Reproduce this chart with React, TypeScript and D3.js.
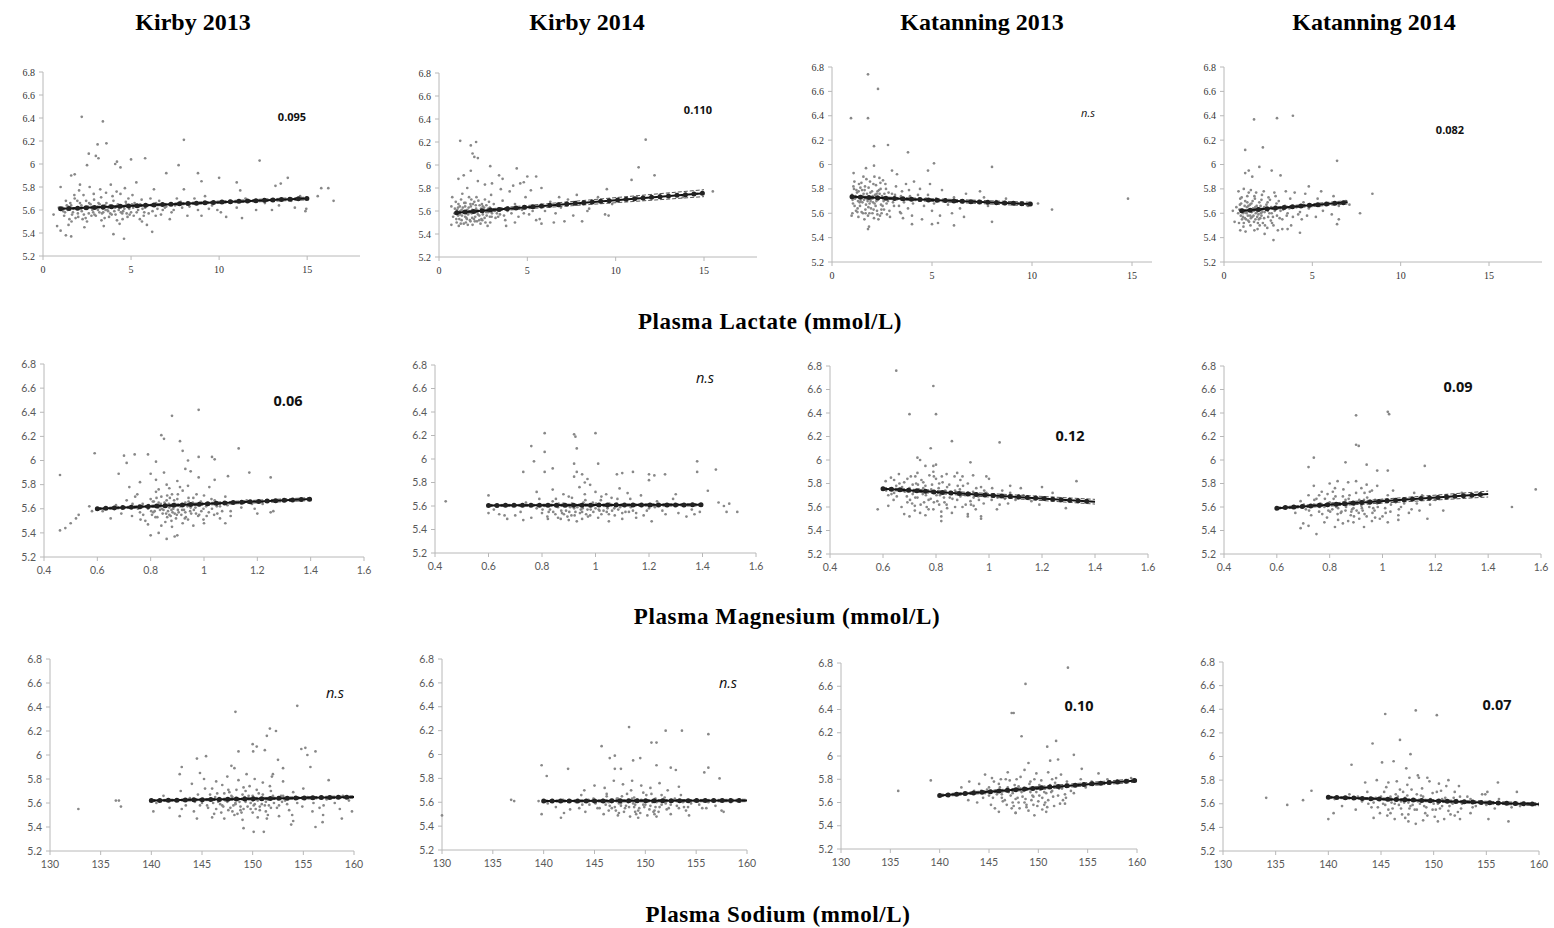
import React from 'react';
import * as d3 from 'd3';

const columnTitles = ['Kirby 2013', 'Kirby 2014', 'Katanning 2013', 'Katanning 2014'];
const rowTitles = ['Plasma Lactate (mmol/L)', 'Plasma Magnesium (mmol/L)', 'Plasma Sodium (mmol/L)'];
const yTicks = [5.2, 5.4, 5.6, 5.8, 6, 6.2, 6.4, 6.6, 6.8];
const lactateTicks = [0, 5, 10, 15];
const magnesiumTicks = [0.4, 0.6, 0.8, 1, 1.2, 1.4, 1.6];
const sodiumTicks = [130, 135, 140, 145, 150, 155, 160];
const annotations = ['0.095', '0.110', 'n.s', '0.082', '0.06', 'n.s', '0.12', '0.09', 'n.s', 'n.s', '0.10', '0.07'];
// regression fits: [xStart, yStart, xEnd, yEnd, ciStart, ciEnd]
const fits = [
  [1, 5.61, 15, 5.70, 0.006, 0.012],
  [1, 5.585, 15, 5.755, 0.008, 0.03],
  [1, 5.735, 10, 5.675, 0.008, 0.015],
  [1, 5.62, 7, 5.69, 0.006, 0.014],
  [0.6, 5.60, 1.4, 5.68, 0.008, 0.012],
  [0.6, 5.605, 1.4, 5.61, 0.008, 0.01],
  [0.6, 5.755, 1.4, 5.645, 0.01, 0.02],
  [0.6, 5.59, 1.4, 5.71, 0.008, 0.025],
  [140, 5.62, 160, 5.65, 0.008, 0.01],
  [140, 5.61, 160, 5.615, 0.008, 0.01],
  [140, 5.66, 160, 5.79, 0.01, 0.015],
  [140, 5.655, 160, 5.595, 0.008, 0.012],
];

const kirby13Lactate = [
  [1.1,5.62],[1.2,5.55],[1.3,5.68],[1.4,5.60],[1.5,5.52],[1.6,5.64],[1.7,5.58],[1.8,5.70],[1.9,5.61],[2.0,5.54],[2.1,5.66],[2.2,5.59],[2.3,5.73],[2.4,5.62],[2.5,5.50],[2.6,5.57],[2.7,5.65],[2.8,5.60],[2.9,5.69],[3.0,5.55],[3.1,5.63],[3.2,5.58],[3.3,5.71],[3.4,5.61],[3.5,5.53],[3.6,5.66],[3.7,5.59],[3.8,5.64],[3.9,5.56],[4.0,5.68],[4.1,5.62],[4.2,5.51],[4.3,5.60],[4.4,5.74],[4.5,5.57],[4.6,5.63],[4.7,5.67],[4.8,5.54],[4.9,5.61],[5.0,5.58],[5.2,5.66],[5.4,5.60],[5.5,5.52],[5.6,5.69],[5.8,5.62],[6.0,5.57],[6.2,5.64],[6.4,5.55],[6.6,5.68],[6.8,5.60],[7.0,5.63],[7.3,5.58],[7.6,5.70],[7.9,5.62],[8.2,5.55],[8.5,5.66],[8.8,5.60],[9.2,5.72],[9.6,5.64],[10.1,5.58],[10.6,5.68],[11.0,5.62],[11.5,5.70],[12.1,5.60],[12.6,5.66],[13.4,5.64],[14.1,5.68],[14.6,5.72],
  [1.25,5.58],[1.55,5.66],[1.85,5.53],[2.15,5.61],[2.45,5.68],[2.75,5.55],[3.05,5.62],[3.35,5.57],[3.65,5.60],[3.95,5.72],[4.25,5.65],[4.55,5.59],[4.85,5.70],[5.15,5.55],[5.45,5.63],[5.75,5.58],[6.1,5.70],[6.5,5.61],[2.05,5.77],[2.65,5.80],[3.25,5.78],[3.85,5.82],[4.65,5.79],[5.3,5.84],[6.3,5.78],[1.45,5.47],[2.35,5.45],[3.45,5.46],[4.35,5.48],[5.9,5.47],[7.2,5.52],[8.0,5.78],[9.0,5.55],
  [1.35,5.64],[1.65,5.56],[1.95,5.68],[2.25,5.52],[2.55,5.63],[2.85,5.58],[3.15,5.66],[3.55,5.60],[3.75,5.54],[4.05,5.59],[4.45,5.64],[4.75,5.57],[5.05,5.65],[5.65,5.61],[6.7,5.56],[7.5,5.64],[8.6,5.70],[9.9,5.60],
  [2.2,6.41],[3.4,6.37],[3.1,6.17],[3.6,6.18],[8.0,6.21],[2.6,6.09],[3.0,6.07],[3.15,6.05],[2.5,5.99],[4.2,6.02],[4.1,6.0],[5.0,6.04],[5.8,6.05],[4.4,5.97],[7.7,5.99],[12.3,6.03],[13.9,5.88],[15.8,5.79],[16.2,5.79],[16.5,5.68],[15.6,5.72],[0.6,5.56],[0.8,5.46],[1.0,5.42],[1.3,5.38],[1.6,5.37],[4.6,5.35],[4.0,5.39],[6.2,5.41],[10.4,5.54],[11.3,5.53],[14.9,5.59],[14.95,5.61],[13.0,5.6],[14.3,5.62],[9.0,5.85],[11.0,5.84],[11.2,5.77],[10.0,5.88],[8.8,5.92],[7.0,5.92],[13.2,5.81],[13.5,5.83],[1.0,5.8],[1.6,5.9],[1.8,5.91],[2.1,5.82],[0.9,5.62],
];
const kirby13LactateCore = [
  [1.15,5.59],[1.42,5.63],[1.72,5.61],[1.98,5.57],[2.18,5.64],[2.32,5.56],[2.52,5.61],[2.62,5.66],[2.82,5.63],[2.92,5.56],[3.12,5.60],[3.22,5.65],[3.42,5.58],[3.52,5.64],[3.72,5.62],[3.82,5.57],[4.02,5.63],[4.12,5.56],[4.32,5.62],[4.42,5.58],[4.62,5.61],[4.72,5.65],[4.92,5.56],[5.12,5.62],[5.32,5.58],[5.52,5.65],[5.72,5.55],[5.92,5.64],[6.22,5.59],[6.42,5.66],[6.92,5.62],[7.42,5.60],[7.82,5.67],[8.32,5.63],[9.42,5.61],[1.62,5.50],[2.42,5.53],[3.32,5.51],[4.52,5.52],[5.62,5.50],[1.78,5.73],[2.88,5.74],[3.58,5.75],[4.18,5.76],[5.08,5.73],
];

const kirby14Lactate = [
  [0.8,5.55],[0.9,5.62],[1.0,5.50],[1.05,5.58],[1.1,5.66],[1.15,5.53],[1.2,5.60],[1.25,5.70],[1.3,5.56],[1.35,5.63],[1.4,5.49],[1.45,5.59],[1.5,5.67],[1.55,5.54],[1.6,5.61],[1.65,5.57],[1.7,5.72],[1.75,5.52],[1.8,5.64],[1.85,5.58],[1.9,5.48],[1.95,5.60],[2.0,5.68],[2.05,5.55],[2.1,5.62],[2.15,5.51],[2.2,5.57],[2.3,5.65],[2.4,5.53],[2.5,5.60],[2.6,5.70],[2.7,5.56],[2.8,5.62],[2.9,5.50],[3.0,5.58],[3.1,5.66],[3.2,5.54],[3.3,5.61],[3.45,5.57],[3.6,5.69],[3.75,5.52],[3.9,5.63],[4.1,5.58],[4.3,5.66],[4.5,5.55],[4.7,5.61],[4.9,5.72],[5.1,5.57],[5.4,5.64],[5.7,5.53],[6.0,5.60],[6.3,5.68],[6.6,5.58],[6.9,5.63],[7.3,5.70],[7.6,5.56],[8.0,5.66],[8.5,5.62],[9.0,5.72],[9.8,5.66],[10.5,5.70],[11.2,5.72],[12.5,5.74],[13.8,5.72],[14.6,5.75],
  [0.95,5.68],[1.12,5.47],[1.32,5.75],[1.52,5.50],[1.72,5.59],[1.92,5.66],[2.12,5.72],[2.35,5.49],[2.55,5.63],[2.75,5.47],[2.95,5.74],[3.15,5.60],[3.5,5.79],[2.6,5.83],[1.6,5.80],[2.2,5.86],[3.0,5.84],[4.0,5.77],[4.6,5.84],[5.2,5.78],[5.8,5.80],[6.8,5.72],[7.8,5.74],[0.7,5.64],[0.75,5.72],[3.8,5.47],[4.3,5.50],[5.5,5.52],
  [1.08,5.56],[1.28,5.61],[1.48,5.55],[1.68,5.63],[1.88,5.54],[2.08,5.59],[2.28,5.56],[2.48,5.64],[2.68,5.59],[2.88,5.55],[1.18,5.64],[1.58,5.58],[1.78,5.51],[2.45,5.52],[3.35,5.55],
  [1.2,6.21],[2.1,6.2],[1.8,6.17],[1.9,6.1],[2.0,6.07],[2.2,6.06],[1.8,5.95],[2.9,5.99],[4.4,5.97],[11.7,6.22],[11.3,5.98],[12.2,5.91],[10.9,5.87],[15.5,5.77],[1.1,5.88],[1.4,5.91],[3.4,5.91],[3.6,5.88],[5.0,5.9],[5.5,5.9],[4.8,5.85],[4.2,5.82],[9.5,5.79],[9.4,5.57],[9.6,5.56],[8.1,5.51],[7.1,5.51],[8.4,5.6],[6.5,5.5],[5.8,5.49],[0.7,5.48],
];
const kirby14LactateCore = [
  [0.88,5.58],[0.98,5.53],[1.08,5.63],[1.18,5.57],[1.28,5.52],[1.38,5.60],[1.48,5.64],[1.58,5.53],[1.68,5.60],[1.78,5.66],[1.88,5.61],[1.98,5.53],[2.08,5.65],[2.18,5.60],[2.28,5.52],[2.38,5.62],[2.48,5.57],[2.58,5.54],[2.68,5.65],[2.78,5.59],[2.88,5.63],[2.98,5.55],[3.08,5.61],[3.28,5.58],[3.48,5.62],[3.68,5.56],[3.88,5.60],[4.2,5.62],[4.8,5.58],[5.3,5.60],[1.03,5.61],[1.23,5.49],[1.43,5.67],[1.63,5.48],[1.83,5.70],[2.03,5.51],[2.23,5.69],[2.43,5.66],[2.63,5.50],[2.83,5.68],
];

const katanning13Lactate = [
  [1.0,5.75],[1.05,5.68],[1.1,5.80],[1.15,5.72],[1.2,5.62],[1.25,5.77],[1.3,5.70],[1.35,5.84],[1.4,5.66],[1.45,5.74],[1.5,5.79],[1.55,5.60],[1.6,5.71],[1.65,5.82],[1.7,5.67],[1.75,5.76],[1.8,5.58],[1.85,5.73],[1.9,5.86],[1.95,5.64],[2.0,5.78],[2.05,5.69],[2.1,5.56],[2.15,5.75],[2.2,5.83],[2.25,5.62],[2.3,5.71],[2.35,5.79],[2.4,5.58],[2.45,5.67],[2.5,5.74],[2.55,5.87],[2.6,5.63],[2.7,5.80],[2.8,5.70],[2.9,5.57],[3.0,5.76],[3.1,5.66],[3.2,5.82],[3.3,5.72],[3.4,5.61],[3.5,5.78],[3.6,5.69],[3.7,5.84],[3.8,5.64],[3.9,5.74],[4.0,5.58],[4.2,5.71],[4.4,5.80],[4.6,5.66],[4.8,5.75],[5.0,5.62],[5.2,5.72],[5.5,5.79],[5.8,5.67],[6.1,5.73],[6.4,5.64],[6.7,5.76],[7.1,5.70],[7.4,5.78],[7.8,5.66],[8.2,5.70],[8.7,5.72],[9.3,5.68],[9.8,5.66],
  [1.02,5.60],[1.12,5.86],[1.22,5.79],[1.32,5.57],[1.42,5.81],[1.52,5.69],[1.62,5.55],[1.72,5.88],[1.82,5.65],[1.92,5.77],[2.02,5.60],[2.12,5.90],[2.22,5.70],[2.32,5.55],[2.42,5.85],[2.62,5.76],[2.75,5.59],[3.25,5.92],[3.55,5.56],[4.1,5.86],[4.5,5.55],[4.9,5.84],[5.4,5.58],[6.0,5.60],[6.6,5.57],[7.6,5.73],[1.08,5.93],[0.98,5.58],
  [1.18,5.74],[1.38,5.69],[1.58,5.76],[1.78,5.70],[1.98,5.72],[2.18,5.66],[2.38,5.76],[2.58,5.70],[1.28,5.64],[1.48,5.61],[1.68,5.60],[1.88,5.68],[2.08,5.63],[2.28,5.78],[2.48,5.60],
  [1.8,6.74],[2.3,6.62],[0.95,6.38],[1.8,6.38],[2.1,6.15],[2.8,6.16],[3.8,6.1],[5.1,6.01],[8.0,5.98],[4.8,5.95],[1.7,5.97],[2.1,5.99],[3.0,5.95],[14.8,5.72],[11.0,5.63],[10.3,5.68],[8.0,5.53],[6.1,5.5],[5.3,5.52],[5.0,5.51],[1.8,5.47],[1.85,5.49],[4.0,5.51],
];
const katanning13LactateCore = [
  [1.03,5.71],[1.13,5.66],[1.23,5.73],[1.33,5.78],[1.43,5.70],[1.53,5.74],[1.63,5.79],[1.73,5.72],[1.83,5.81],[1.93,5.70],[2.03,5.74],[2.13,5.68],[2.23,5.76],[2.33,5.72],[2.43,5.80],[2.53,5.66],[2.63,5.73],[2.73,5.68],[2.83,5.77],[2.93,5.72],[3.05,5.69],[3.15,5.75],[3.35,5.66],[3.45,5.74],[3.65,5.71],[3.85,5.79],[4.05,5.68],[4.3,5.75],[4.7,5.72],[5.1,5.68],[1.07,5.82],[1.27,5.61],[1.47,5.85],[1.67,5.63],[1.87,5.60],[2.07,5.84],[2.27,5.59],[2.47,5.63],[2.67,5.84],[2.87,5.62],[3.45,5.60],[1.57,5.90],[2.37,5.89],
];

const katanning14Lactate = [
  [0.8,5.60],[0.85,5.52],[0.9,5.67],[0.95,5.58],[1.0,5.73],[1.05,5.63],[1.1,5.49],[1.15,5.61],[1.2,5.70],[1.25,5.55],[1.3,5.65],[1.35,5.58],[1.4,5.77],[1.45,5.62],[1.5,5.50],[1.55,5.68],[1.6,5.57],[1.65,5.64],[1.7,5.53],[1.75,5.72],[1.8,5.60],[1.85,5.66],[1.9,5.47],[1.95,5.59],[2.0,5.69],[2.05,5.56],[2.1,5.63],[2.15,5.75],[2.2,5.52],[2.3,5.61],[2.4,5.67],[2.5,5.57],[2.6,5.71],[2.7,5.60],[2.8,5.50],[2.9,5.65],[3.0,5.58],[3.1,5.70],[3.2,5.62],[3.3,5.55],[3.45,5.66],[3.6,5.60],[3.75,5.72],[3.9,5.57],[4.1,5.65],[4.3,5.61],[4.5,5.69],[4.7,5.58],[5.0,5.66],[5.3,5.72],[5.6,5.62],[5.9,5.68],[6.2,5.74],[6.5,5.66],[6.9,5.70],[7.1,5.67],
  [0.82,5.78],[0.92,5.46],[1.02,5.55],[1.12,5.80],[1.22,5.45],[1.32,5.74],[1.42,5.53],[1.52,5.79],[1.62,5.70],[1.72,5.46],[1.82,5.77],[1.92,5.64],[2.02,5.50],[2.12,5.58],[2.25,5.78],[2.45,5.48],[2.65,5.54],[2.85,5.77],[3.05,5.46],[3.5,5.78],[3.8,5.50],[4.0,5.77],[4.4,5.55],[4.6,5.76],[5.2,5.57],[5.5,5.78],[6.1,5.59],[0.6,5.53],[0.7,5.65],
  [1.08,5.60],[1.28,5.61],[1.48,5.58],[1.68,5.62],[1.88,5.57],[2.08,5.60],[2.28,5.65],[2.48,5.62],[1.18,5.56],[1.38,5.66],[1.58,5.63],[1.78,5.55],[1.98,5.63],
  [1.7,6.37],[3.0,6.38],[3.9,6.4],[2.2,6.14],[1.2,6.12],[6.4,6.03],[2.0,5.98],[2.7,5.95],[1.4,5.95],[1.2,5.93],[3.2,5.91],[1.6,5.9],[4.8,5.82],[8.4,5.76],[7.7,5.6],[2.8,5.38],[2.3,5.43],[4.3,5.44],[6.4,5.51],[6.5,5.55],[0.5,5.62],[3.3,5.47],[3.6,5.47],
];
const katanning14LactateCore = [
  [0.87,5.63],[0.97,5.68],[1.07,5.57],[1.17,5.66],[1.27,5.60],[1.37,5.54],[1.47,5.67],[1.57,5.61],[1.67,5.58],[1.77,5.65],[1.87,5.61],[1.97,5.55],[2.07,5.66],[2.17,5.61],[2.27,5.56],[2.37,5.63],[2.47,5.69],[2.57,5.60],[2.67,5.65],[2.77,5.57],[2.87,5.62],[2.97,5.68],[3.15,5.56],[3.35,5.63],[3.55,5.58],[3.7,5.64],[4.2,5.59],[4.8,5.64],[5.4,5.66],[0.92,5.72],[1.12,5.52],[1.32,5.69],[1.52,5.56],[1.72,5.74],[1.92,5.52],[2.12,5.71],[2.32,5.50],[2.52,5.73],[2.72,5.52],[2.92,5.74],
];

const kirby13Magnesium = [
  [0.62,5.58],[0.65,5.52],[0.67,5.63],[0.69,5.56],[0.71,5.67],[0.73,5.54],[0.74,5.61],[0.75,5.72],[0.76,5.57],[0.77,5.64],[0.78,5.50],[0.79,5.60],[0.80,5.68],[0.805,5.55],[0.81,5.62],[0.815,5.58],[0.82,5.74],[0.825,5.53],[0.83,5.65],[0.835,5.59],[0.84,5.70],[0.845,5.56],[0.85,5.62],[0.855,5.49],[0.86,5.67],[0.865,5.58],[0.87,5.61],[0.875,5.54],[0.88,5.72],[0.885,5.60],[0.89,5.64],[0.895,5.52],[0.90,5.68],[0.905,5.57],[0.91,5.62],[0.915,5.55],[0.92,5.75],[0.925,5.59],[0.93,5.65],[0.94,5.51],[0.95,5.61],[0.96,5.69],[0.97,5.56],[0.98,5.63],[0.99,5.58],[1.00,5.71],[1.01,5.54],[1.02,5.64],[1.03,5.60],[1.04,5.67],[1.05,5.56],[1.06,5.62],[1.08,5.70],[1.10,5.58],[1.12,5.65],[1.14,5.61],[1.16,5.67],[1.19,5.60],[1.22,5.64],
  [0.72,5.78],[0.76,5.82],[0.79,5.47],[0.82,5.84],[0.84,5.46],[0.86,5.80],[0.88,5.45],[0.9,5.83],[0.92,5.48],[0.94,5.79],[0.96,5.46],[0.98,5.86],[1.0,5.48],[1.02,5.78],[1.04,5.84],[1.06,5.52],[1.08,5.48],[0.8,5.89],[0.85,5.9],[0.93,5.93],[0.95,5.91],[0.87,5.77],[0.83,5.76],[0.91,5.78],[0.89,5.56],[0.81,5.57],[0.87,5.55],[0.93,5.57],
  [0.782,5.62],[0.812,5.66],[0.842,5.60],[0.862,5.53],[0.882,5.57],[0.902,5.59],[0.922,5.63],[0.942,5.66],[0.962,5.59],[0.982,5.55],[0.802,5.58],[0.852,5.65],[0.872,5.69],[0.932,5.53],[0.952,5.56],
  [0.98,6.42],[0.88,6.37],[0.84,6.21],[0.85,6.18],[0.91,6.16],[0.92,6.08],[1.13,6.1],[0.59,6.06],[0.7,6.04],[0.74,6.05],[0.79,6.05],[0.71,5.98],[0.82,5.99],[0.98,6.03],[1.03,6.03],[1.04,6.01],[0.94,6.0],[0.46,5.88],[0.68,5.89],[1.17,5.9],[1.25,5.86],[1.09,5.87],[0.46,5.42],[0.48,5.44],[0.5,5.48],[0.52,5.52],[0.53,5.55],[0.8,5.38],[0.83,5.4],[0.86,5.35],[0.89,5.37],[0.9,5.38],[0.57,5.62],[0.58,5.58],[1.26,5.58],[1.25,5.57],[1.2,5.56],[1.18,5.64],[1.1,5.54],
];
const kirby13MagnesiumCore = [
  [0.752,5.60],[0.772,5.55],[0.792,5.63],[0.808,5.66],[0.818,5.53],[0.828,5.61],[0.838,5.64],[0.848,5.59],[0.858,5.56],[0.868,5.64],[0.878,5.59],[0.888,5.67],[0.898,5.55],[0.908,5.63],[0.918,5.59],[0.928,5.52],[0.938,5.62],[0.948,5.58],[0.958,5.65],[0.968,5.61],[0.978,5.54],[0.988,5.66],[0.998,5.60],[1.008,5.62],[1.018,5.57],[1.028,5.68],[1.038,5.55],[1.048,5.62],[1.068,5.58],[1.088,5.63],[0.732,5.64],[0.742,5.70],[0.762,5.51],[0.822,5.69],[0.862,5.71],[0.902,5.72],[0.942,5.69],[0.972,5.72],[0.998,5.51],[0.878,5.50],
];

const kirby14Magnesium = [
  [0.62,5.57],[0.66,5.52],[0.69,5.60],[0.72,5.55],[0.74,5.63],[0.76,5.50],[0.78,5.58],[0.79,5.66],[0.80,5.54],[0.81,5.60],[0.82,5.51],[0.83,5.57],[0.84,5.64],[0.85,5.53],[0.86,5.59],[0.87,5.49],[0.88,5.62],[0.89,5.56],[0.90,5.68],[0.91,5.52],[0.92,5.58],[0.93,5.47],[0.94,5.61],[0.95,5.55],[0.96,5.70],[0.97,5.57],[0.98,5.52],[0.99,5.63],[1.00,5.58],[1.01,5.50],[1.02,5.65],[1.03,5.56],[1.04,5.60],[1.05,5.53],[1.06,5.67],[1.07,5.58],[1.08,5.62],[1.10,5.54],[1.11,5.60],[1.13,5.66],[1.14,5.56],[1.16,5.61],[1.18,5.52],[1.20,5.58],[1.21,5.47],[1.23,5.64],[1.25,5.56],[1.27,5.60],[1.29,5.66],[1.31,5.54],[1.33,5.60],[1.36,5.57],[1.39,5.55],
  [0.78,5.72],[0.84,5.74],[0.88,5.70],[0.94,5.76],[0.96,5.80],[0.98,5.78],[1.0,5.72],[1.04,5.70],[1.09,5.75],[1.12,5.71],[1.17,5.69],[1.2,5.82],[1.22,5.86],[0.92,5.85],[0.97,5.83],[0.86,5.50],[0.9,5.48],[0.95,5.49],[1.05,5.47],[1.1,5.49],[0.73,5.48],[0.7,5.52],[0.64,5.53],[1.3,5.70],[1.34,5.51],[1.37,5.53],
  [0.825,5.55],[0.855,5.61],[0.875,5.54],[0.905,5.59],[0.925,5.55],[0.945,5.57],[0.965,5.53],[0.985,5.60],[1.015,5.56],[1.045,5.58],[1.085,5.57],[1.125,5.55],[0.895,5.51],[0.955,5.63],
  [0.81,6.22],[0.92,6.21],[0.925,6.19],[1.0,6.22],[0.76,6.11],[0.93,6.09],[0.81,6.06],[0.77,5.98],[0.92,5.96],[1.01,5.96],[1.38,5.98],[0.73,5.89],[0.81,5.89],[0.84,5.92],[0.93,5.89],[0.95,5.87],[1.08,5.87],[1.1,5.88],[1.14,5.89],[1.2,5.87],[1.26,5.87],[1.38,5.89],[1.45,5.91],[1.42,5.73],[0.44,5.64],[1.46,5.63],[1.48,5.6],[1.49,5.55],[1.5,5.62],[1.53,5.55],[0.6,5.69],[0.67,5.49],[0.6,5.54],
];
const kirby14MagnesiumCore = [
  [0.802,5.57],[0.822,5.61],[0.842,5.55],[0.862,5.62],[0.872,5.56],[0.882,5.53],[0.892,5.60],[0.902,5.55],[0.912,5.62],[0.922,5.52],[0.932,5.59],[0.942,5.54],[0.952,5.58],[0.962,5.61],[0.972,5.51],[0.982,5.57],[0.992,5.55],[1.002,5.62],[1.012,5.57],[1.022,5.53],[1.032,5.60],[1.042,5.55],[1.052,5.62],[1.062,5.56],[1.072,5.52],[1.092,5.59],[1.112,5.55],[1.132,5.59],[1.152,5.54],[1.172,5.60],[1.192,5.56],[1.222,5.59],[1.262,5.53],[0.852,5.66],[0.912,5.67],[0.962,5.65],[1.022,5.68],[1.082,5.66],[0.822,5.49],[1.152,5.50],
];

const katanning13Magnesium = [
  [0.60,5.76],[0.61,5.82],[0.62,5.70],[0.63,5.85],[0.64,5.66],[0.65,5.78],[0.66,5.74],[0.67,5.60],[0.68,5.81],[0.69,5.69],[0.70,5.76],[0.705,5.86],[0.71,5.63],[0.715,5.73],[0.72,5.57],[0.725,5.80],[0.73,5.68],[0.735,5.75],[0.74,5.55],[0.745,5.83],[0.75,5.71],[0.755,5.64],[0.76,5.78],[0.765,5.60],[0.77,5.74],[0.775,5.87],[0.78,5.67],[0.785,5.79],[0.79,5.58],[0.795,5.72],[0.80,5.84],[0.805,5.65],[0.81,5.76],[0.815,5.70],[0.82,5.56],[0.825,5.81],[0.83,5.68],[0.835,5.74],[0.84,5.62],[0.85,5.79],[0.86,5.71],[0.87,5.86],[0.88,5.66],[0.89,5.75],[0.90,5.60],[0.91,5.70],[0.92,5.80],[0.93,5.65],[0.94,5.73],[0.95,5.58],[0.96,5.69],[0.97,5.77],[0.98,5.63],[0.99,5.72],[1.00,5.84],[1.01,5.66],[1.02,5.70],[1.04,5.62],[1.06,5.67],[1.08,5.72],[1.1,5.66],[1.13,5.70],[1.16,5.65],[1.2,5.68],[1.24,5.72],[1.27,5.65],
  [0.62,5.61],[0.66,5.88],[0.7,5.52],[0.73,5.89],[0.76,5.53],[0.79,5.90],[0.82,5.52],[0.84,5.88],[0.86,5.55],[0.88,5.89],[0.9,5.86],[0.92,5.54],[0.94,5.87],[0.97,5.52],[0.99,5.86],[1.03,5.58],[1.05,5.74],[0.68,5.54],[0.72,5.61],
  [0.642,5.72],[0.672,5.77],[0.702,5.66],[0.732,5.79],[0.762,5.70],[0.792,5.64],[0.822,5.73],[0.852,5.68],[0.882,5.78],[0.912,5.62],[0.942,5.68],[0.712,5.71],[0.752,5.76],[0.812,5.62],
  [0.65,6.76],[0.79,6.63],[0.7,6.39],[0.8,6.39],[0.86,6.16],[1.04,6.15],[0.78,6.1],[0.73,6.02],[0.74,6.0],[0.93,5.98],[0.8,5.96],[0.79,5.95],[0.76,5.95],[1.33,5.82],[1.2,5.77],[1.12,5.76],[1.08,5.78],[0.58,5.58],[0.82,5.48],[0.97,5.5],[0.92,5.52],[1.29,5.59],[1.19,5.62],
];
const katanning13MagnesiumCore = [
  [0.612,5.74],[0.632,5.71],[0.652,5.69],[0.662,5.80],[0.682,5.73],[0.692,5.64],[0.712,5.79],[0.722,5.68],[0.742,5.74],[0.752,5.81],[0.772,5.66],[0.782,5.75],[0.802,5.70],[0.812,5.80],[0.832,5.64],[0.842,5.77],[0.862,5.67],[0.872,5.74],[0.892,5.69],[0.902,5.78],[0.922,5.72],[0.932,5.62],[0.952,5.76],[0.962,5.66],[0.982,5.74],[1.012,5.76],[1.032,5.68],[1.072,5.63],[1.112,5.70],[0.642,5.83],[0.692,5.84],[0.742,5.62],[0.792,5.86],[0.842,5.59],[0.892,5.83],[0.942,5.61],[0.722,5.86],[0.772,5.58],[0.822,5.86],[0.872,5.60],
];

const katanning14Magnesium = [
  [0.64,5.60],[0.67,5.55],[0.69,5.65],[0.71,5.58],[0.72,5.70],[0.73,5.53],[0.74,5.62],[0.75,5.67],[0.76,5.56],[0.77,5.73],[0.78,5.60],[0.79,5.51],[0.80,5.64],[0.81,5.58],[0.82,5.76],[0.83,5.54],[0.84,5.62],[0.85,5.69],[0.86,5.57],[0.87,5.48],[0.88,5.63],[0.89,5.59],[0.90,5.72],[0.91,5.55],[0.92,5.61],[0.93,5.66],[0.94,5.52],[0.95,5.60],[0.96,5.74],[0.97,5.57],[0.98,5.63],[0.99,5.50],[1.00,5.66],[1.01,5.59],[1.02,5.70],[1.03,5.56],[1.05,5.64],[1.07,5.60],[1.09,5.67],[1.11,5.58],[1.13,5.63],[1.15,5.70],[1.18,5.62],[1.2,5.66],[1.25,5.68],[1.3,5.72],[1.35,5.70],
  [0.7,5.46],[0.74,5.78],[0.78,5.47],[0.8,5.80],[0.83,5.82],[0.85,5.46],[0.87,5.81],[0.89,5.47],[0.9,5.82],[0.92,5.76],[0.94,5.79],[0.96,5.48],[0.98,5.78],[1.0,5.52],[1.04,5.74],[1.06,5.53],[1.1,5.55],[1.12,5.72],[1.14,5.57],[0.76,5.70],[0.86,5.66],[0.88,5.53],
  [0.765,5.63],[0.795,5.57],[0.825,5.60],[0.845,5.56],[0.865,5.62],[0.885,5.58],[0.905,5.64],[0.925,5.57],[0.945,5.63],[0.965,5.59],[0.815,5.67],[0.875,5.70],
  [1.02,6.41],[1.025,6.39],[0.9,6.38],[0.9,6.13],[0.91,6.12],[0.74,6.02],[0.86,5.98],[0.72,5.94],[0.94,5.96],[0.98,5.91],[1.02,5.91],[1.16,5.95],[1.58,5.75],[1.49,5.6],[1.17,5.5],[1.23,5.57],[0.75,5.37],[0.69,5.42],[0.72,5.44],[0.82,5.43],[0.93,5.43],[1.02,5.47],[1.06,5.49],
];
const katanning14MagnesiumCore = [
  [0.702,5.62],[0.722,5.57],[0.742,5.66],[0.762,5.60],[0.772,5.54],[0.782,5.67],[0.792,5.61],[0.802,5.56],[0.812,5.63],[0.822,5.69],[0.832,5.59],[0.842,5.55],[0.852,5.64],[0.862,5.60],[0.872,5.67],[0.882,5.56],[0.892,5.62],[0.902,5.57],[0.912,5.66],[0.922,5.59],[0.932,5.54],[0.942,5.68],[0.952,5.63],[0.962,5.55],[0.972,5.66],[0.982,5.60],[0.992,5.64],[1.012,5.55],[1.032,5.62],[1.062,5.58],[1.082,5.63],[0.812,5.73],[0.852,5.75],[0.892,5.52],[0.932,5.72],[0.972,5.51],[0.792,5.71],[0.912,5.50],[0.832,5.49],[0.952,5.73],
];

const kirby13Sodium = [
  [140.5,5.60],[141.2,5.66],[141.8,5.56],[142.3,5.62],[142.9,5.70],[143.4,5.58],[143.8,5.64],[144.2,5.53],[144.6,5.67],[145.0,5.60],[145.3,5.72],[145.6,5.56],[145.9,5.63],[146.2,5.51],[146.5,5.68],[146.8,5.59],[147.0,5.75],[147.3,5.62],[147.6,5.54],[147.9,5.66],[148.1,5.58],[148.4,5.71],[148.7,5.61],[148.9,5.52],[149.2,5.65],[149.5,5.57],[149.7,5.74],[150.0,5.62],[150.3,5.55],[150.6,5.68],[150.9,5.59],[151.2,5.64],[151.5,5.50],[151.8,5.70],[152.1,5.60],[152.4,5.56],[152.8,5.66],[153.2,5.62],[153.6,5.54],[154.0,5.69],[154.4,5.60],[154.9,5.57],[155.4,5.65],[156.0,5.60],[156.6,5.56],[157.3,5.63],[158.1,5.60],[158.9,5.66],[159.5,5.62],
  [145.2,5.80],[146.4,5.78],[147.5,5.82],[148.6,5.79],[149.4,5.84],[150.2,5.80],[151.0,5.77],[151.9,5.82],[153.0,5.78],[144.0,5.76],[146.0,5.48],[147.2,5.47],[148.2,5.50],[149.0,5.46],[150.5,5.48],[151.4,5.47],[152.6,5.49],[153.9,5.50],[143.0,5.55],[144.8,5.58],[146.6,5.61],[147.8,5.63],[148.8,5.57],[149.8,5.60],[150.8,5.63],[151.6,5.58],[152.9,5.61],[155.0,5.72],[155.9,5.53],[157.0,5.58],
  [146.3,5.65],[147.1,5.57],[147.7,5.69],[148.3,5.60],[149.1,5.55],[149.6,5.66],[150.1,5.58],[150.7,5.54],[151.3,5.61],[152.0,5.66],[148.0,5.53],[149.3,5.70],[150.4,5.64],
  [132.8,5.55],[136.5,5.62],[136.8,5.62],[137,5.57],[148.3,6.36],[154.4,6.41],[151.7,6.22],[152.3,6.2],[151.4,6.16],[150,6.09],[150.4,6.07],[151.2,6.04],[148.6,6.03],[155.2,6.06],[154.8,6.05],[156.2,6.03],[150.05,6.03],[145.4,5.99],[144.5,5.97],[152.5,5.96],[155.7,5.9],[155.4,6.0],[143,5.9],[142.8,5.84],[144.8,5.85],[147.9,5.91],[148.2,5.89],[152,5.84],[153,5.89],[157.5,5.79],[140.2,5.53],[142.8,5.49],[144.5,5.47],[149.1,5.39],[150.1,5.36],[151.1,5.36],[153.8,5.42],[154,5.45],[156.2,5.4],[156.9,5.44],[156.95,5.5],[158.8,5.47],[159.8,5.53],[158.6,5.55],
];
const kirby13SodiumCore = [
  [145.1,5.63],[145.5,5.58],[145.8,5.67],[146.1,5.60],[146.4,5.55],[146.7,5.64],[147.0,5.58],[147.2,5.68],[147.5,5.61],[147.8,5.56],[148.0,5.65],[148.3,5.59],[148.5,5.63],[148.8,5.54],[149.0,5.67],[149.3,5.61],[149.5,5.64],[149.8,5.55],[150.0,5.66],[150.2,5.59],[150.5,5.62],[150.7,5.57],[151.0,5.67],[151.2,5.58],[151.5,5.63],[151.8,5.56],[152.2,5.64],[152.6,5.58],[153.0,5.66],[153.4,5.59],[146.0,5.72],[147.6,5.71],[149.1,5.73],[150.4,5.71],[151.7,5.74],[146.9,5.52],[148.5,5.51],[150.0,5.52],[151.3,5.53],[144.3,5.61],
];

const kirby14Sodium = [
  [140.4,5.59],[141.2,5.56],[141.9,5.62],[142.6,5.54],[143.2,5.60],[143.7,5.66],[144.1,5.52],[144.5,5.58],[144.9,5.63],[145.3,5.55],[145.6,5.61],[145.9,5.50],[146.2,5.67],[146.5,5.57],[146.8,5.62],[147.1,5.53],[147.4,5.59],[147.7,5.65],[148.0,5.55],[148.3,5.60],[148.6,5.70],[148.9,5.56],[149.2,5.62],[149.5,5.51],[149.8,5.58],[150.1,5.66],[150.4,5.54],[150.7,5.60],[151.0,5.63],[151.3,5.52],[151.6,5.58],[151.9,5.64],[152.3,5.55],[152.7,5.61],[153.1,5.57],[153.5,5.66],[154.0,5.53],[154.5,5.59],[155.0,5.62],[155.6,5.55],[156.2,5.60],[156.9,5.57],[157.6,5.62],[158.4,5.60],[159.2,5.62],
  [144.0,5.70],[145.0,5.74],[146.0,5.72],[146.9,5.78],[147.8,5.75],[148.7,5.78],[149.6,5.74],[150.5,5.72],[151.4,5.76],[152.2,5.70],[153.3,5.73],[147.3,5.49],[148.5,5.48],[149.3,5.47],[150.2,5.49],[151.1,5.48],[152.5,5.50],[154.3,5.49],[142.0,5.51],[143.5,5.55],[146.4,5.60],[147.6,5.57],[148.8,5.59],[150.0,5.58],[151.0,5.56],[152.0,5.59],[153.8,5.56],[155.3,5.58],
  [146.7,5.55],[147.2,5.63],[148.1,5.57],[148.9,5.64],[149.4,5.55],[150.3,5.61],[150.9,5.53],[151.7,5.61],[149.0,5.52],[150.6,5.67],
  [130,5.49],[136.8,5.62],[137.1,5.61],[139.5,5.61],[139.8,5.91],[140.3,5.82],[139.8,5.5],[141.7,5.47],[148.4,6.23],[152,6.2],[153.6,6.2],[156.2,6.17],[150.6,6.1],[151.1,6.1],[145.7,6.07],[147.0,5.99],[146.5,5.97],[149.5,5.97],[148.8,5.95],[151.1,5.91],[155.8,5.85],[156.2,5.89],[157.3,5.8],[142.4,5.88],[147,5.88],[147.6,5.88],[152.5,5.89],[153,5.87],[157.7,5.52],[157.5,5.53],
];
const kirby14SodiumCore = [
  [145.1,5.59],[145.5,5.55],[145.8,5.62],[146.1,5.58],[146.4,5.53],[146.7,5.60],[147.0,5.56],[147.3,5.63],[147.6,5.59],[147.9,5.52],[148.1,5.61],[148.4,5.56],[148.7,5.63],[149.0,5.58],[149.3,5.53],[149.6,5.62],[149.9,5.56],[150.2,5.61],[150.5,5.57],[150.8,5.52],[151.1,5.60],[151.4,5.56],[151.8,5.62],[152.1,5.54],[152.5,5.58],[152.9,5.63],[153.3,5.55],[153.7,5.60],[154.2,5.56],[144.4,5.62],[146.2,5.65],[148.2,5.67],[149.8,5.68],[151.6,5.66],[147.4,5.51],[149.1,5.50],[150.9,5.50],[143.8,5.58],[155.2,5.61],[156.0,5.55],
];

const katanning13Sodium = [
  [141.5,5.67],[142.2,5.73],[142.9,5.62],[143.5,5.70],[144.0,5.76],[144.4,5.64],[144.8,5.71],[145.2,5.58],[145.5,5.78],[145.8,5.67],[146.1,5.73],[146.4,5.61],[146.7,5.80],[147.0,5.69],[147.3,5.55],[147.6,5.75],[147.9,5.64],[148.2,5.82],[148.5,5.70],[148.8,5.58],[149.1,5.76],[149.4,5.66],[149.7,5.73],[150.0,5.61],[150.3,5.79],[150.6,5.69],[150.9,5.56],[151.2,5.75],[151.5,5.65],[151.8,5.81],[152.1,5.72],[152.5,5.62],[152.9,5.78],[153.3,5.70],[153.8,5.75],[154.3,5.80],[154.8,5.73],[155.4,5.78],[156.0,5.76],[157.0,5.80],[158.0,5.79],
  [143.0,5.78],[144.6,5.84],[146.0,5.52],[146.9,5.86],[147.7,5.51],[148.0,5.60],[148.6,5.88],[149.0,5.53],[149.8,5.85],[150.4,5.54],[151.0,5.86],[151.6,5.57],[152.3,5.84],[147.2,5.66],[149.3,5.62],[150.8,5.68],[145.0,5.66],[146.6,5.70],[148.4,5.65],[150.2,5.71],[152.7,5.67],[143.8,5.60],[145.6,5.55],
  [146.3,5.64],[147.4,5.60],[147.9,5.72],[148.7,5.63],[149.5,5.58],[150.1,5.66],[150.7,5.60],[151.4,5.70],[148.1,5.55],[149.2,5.69],
  [135.8,5.7],[139.1,5.79],[153,6.76],[148.7,6.62],[147.3,6.37],[147.5,6.37],[148.3,6.17],[151.8,6.13],[150.9,6.08],[153.6,6.01],[151.2,5.96],[152,5.97],[149,5.94],[154.4,5.89],[156.1,5.85],[159.4,5.81],[149.6,5.49],[147.7,5.51],[150.8,5.52],[152.7,5.59],[152.2,5.59],
];
const katanning13SodiumCore = [
  [144.6,5.68],[145.0,5.73],[145.4,5.64],[145.7,5.70],[146.0,5.76],[146.3,5.67],[146.6,5.62],[146.9,5.73],[147.1,5.79],[147.4,5.68],[147.7,5.63],[148.0,5.74],[148.3,5.69],[148.6,5.60],[148.9,5.71],[149.2,5.78],[149.5,5.65],[149.8,5.69],[150.1,5.75],[150.4,5.64],[150.7,5.72],[151.0,5.62],[151.3,5.69],[151.7,5.77],[152.0,5.66],[152.4,5.72],[152.8,5.64],[153.1,5.74],[145.3,5.81],[146.8,5.58],[147.8,5.80],[148.8,5.56],[149.6,5.80],[150.6,5.58],[151.4,5.80],[147.5,5.57],[149.9,5.57],[146.2,5.80],[144.2,5.70],[153.6,5.68],
];

const katanning14Sodium = [
  [140.6,5.64],[141.3,5.58],[142.0,5.68],[142.6,5.55],[143.2,5.62],[143.7,5.70],[144.1,5.57],[144.5,5.65],[144.9,5.52],[145.2,5.60],[145.5,5.74],[145.8,5.63],[146.1,5.56],[146.4,5.68],[146.7,5.59],[147.0,5.51],[147.3,5.65],[147.6,5.61],[147.9,5.72],[148.2,5.55],[148.5,5.62],[148.8,5.67],[149.1,5.58],[149.4,5.50],[149.7,5.64],[150.0,5.60],[150.3,5.70],[150.6,5.56],[150.9,5.62],[151.2,5.75],[151.5,5.58],[151.9,5.65],[152.3,5.53],[152.7,5.60],[153.2,5.66],[153.7,5.57],[154.3,5.62],[155.0,5.59],[155.8,5.56],[156.6,5.60],[157.4,5.57],[158.2,5.58],
  [143.5,5.78],[144.6,5.80],[145.7,5.78],[146.5,5.79],[147.5,5.76],[148.6,5.82],[149.6,5.79],[150.5,5.77],[151.4,5.80],[152.4,5.75],[144.3,5.48],[145.6,5.50],[146.3,5.47],[147.3,5.48],[149.0,5.46],[150.1,5.49],[151.0,5.47],[152.0,5.50],[153.5,5.52],[146.0,5.61],[148.0,5.59],[150.8,5.64],[142.8,5.66],[154.6,5.68],[156.2,5.64],
  [145.9,5.66],[146.9,5.62],[147.7,5.56],[148.4,5.68],[149.2,5.63],[149.9,5.55],[150.4,5.60],[151.7,5.61],[152.5,5.66],[147.1,5.70],
  [134.1,5.65],[136.1,5.59],[137.6,5.63],[138.4,5.71],[140,5.47],[140.5,5.52],[145.4,6.36],[148.3,6.39],[150.3,6.35],[144.2,6.11],[146.8,6.14],[147.8,6.02],[146.2,5.96],[145.1,5.95],[142.2,5.93],[147.4,5.9],[147.7,5.82],[148.5,5.84],[149.4,5.82],[156.1,5.78],[157.9,5.7],[155.1,5.7],[154.9,5.68],[157.1,5.45],[155.2,5.47],[147.6,5.45],[148.3,5.43],[150.4,5.45],[152.5,5.47],
];
const katanning14SodiumCore = [
  [144.3,5.61],[144.7,5.57],[145.0,5.66],[145.4,5.59],[145.7,5.55],[146.0,5.64],[146.3,5.60],[146.6,5.66],[146.9,5.56],[147.2,5.61],[147.5,5.67],[147.8,5.58],[148.1,5.63],[148.4,5.55],[148.7,5.60],[149.0,5.66],[149.3,5.57],[149.6,5.62],[149.9,5.69],[150.2,5.55],[150.5,5.61],[150.8,5.58],[151.1,5.65],[151.4,5.54],[151.8,5.60],[152.2,5.63],[152.6,5.56],[153.0,5.61],[153.5,5.64],[145.3,5.70],[146.8,5.72],[148.9,5.73],[150.7,5.71],[152.0,5.70],[145.9,5.52],[147.6,5.51],[149.2,5.52],[151.6,5.51],[143.8,5.60],[154.0,5.58],
];

const seriesByPanel = [
  kirby13Lactate.concat(kirby13LactateCore), kirby14Lactate.concat(kirby14LactateCore),
  katanning13Lactate.concat(katanning13LactateCore), katanning14Lactate.concat(katanning14LactateCore),
  kirby13Magnesium.concat(kirby13MagnesiumCore), kirby14Magnesium.concat(kirby14MagnesiumCore),
  katanning13Magnesium.concat(katanning13MagnesiumCore), katanning14Magnesium.concat(katanning14MagnesiumCore),
  kirby13Sodium.concat(kirby13SodiumCore), kirby14Sodium.concat(kirby14SodiumCore),
  katanning13Sodium.concat(katanning13SodiumCore), katanning14Sodium.concat(katanning14SodiumCore),
];

// layout (pixels) per panel: plot box and annotation anchor
const layout = [
  { l: 43, r: 360, t: 72, b: 256, ax: 292, ay: 117 },
  { l: 439, r: 757, t: 73, b: 257, ax: 698, ay: 110 },
  { l: 832, r: 1152, t: 67, b: 262, ax: 1088, ay: 113 },
  { l: 1224, r: 1542, t: 67, b: 262, ax: 1450, ay: 130 },
  { l: 44, r: 364, t: 364, b: 557, ax: 288, ay: 401 },
  { l: 435, r: 756, t: 365, b: 553, ax: 705, ay: 378 },
  { l: 830, r: 1148, t: 366, b: 554, ax: 1070, ay: 436 },
  { l: 1224, r: 1541, t: 366, b: 554, ax: 1458, ay: 387 },
  { l: 50, r: 354, t: 659, b: 851, ax: 335, ay: 693 },
  { l: 442, r: 747, t: 659, b: 850, ax: 728, ay: 683 },
  { l: 841, r: 1137, t: 663, b: 849, ax: 1079, ay: 706 },
  { l: 1223, r: 1539, t: 662, b: 851, ax: 1497, ay: 705 },
];
const xDomains = [[0, 18], [0, 18], [0, 16], [0, 18]];
const titleX = [193, 587, 982, 1374];
const rowTitlePos = [{ x: 770, y: 329 }, { x: 787, y: 624 }, { x: 778, y: 922 }];

const SERIF = '"Liberation Serif", "Times New Roman", serif';
const SANS = 'Lato, "Noto Sans", sans-serif';
const ANNOT = '"Open Sans", "Noto Sans", sans-serif';

function Panel({ idx }: { idx: number }) {
  const row = Math.floor(idx / 4);
  const col = idx % 4;
  const L = layout[idx];
  const xDom = row === 0 ? xDomains[col] : row === 1 ? [0.4, 1.6] : [130, 160];
  const xTicks = row === 0 ? lactateTicks : row === 1 ? magnesiumTicks : sodiumTicks;
  const x = d3.scaleLinear().domain(xDom).range([L.l, L.r]);
  const y = d3.scaleLinear().domain([5.2, 6.8]).range([L.b, L.t]);
  const f = fits[idx];
  const tickFont = row === 0 ? SERIF : SANS;
  const tickSize = row === 0 ? 10 : 10.5;
  const tickColor = row === 0 ? '#333' : '#595959';
  const ann = annotations[idx];
  const isNs = ann === 'n.s';
  const annSize = row === 0 ? 11 : 14.5;
  const line = d3.line<number[]>().x(d => x(d[0])).y(d => y(d[1]));
  const fitPts = [[f[0], f[1]], [f[2], f[3]]];
  const ciHi = [[f[0], f[1] + f[4]], [f[2], f[3] + f[5]]];
  const ciLo = [[f[0], f[1] - f[4]], [f[2], f[3] - f[5]]];
  const fmtY = (v: number) => (Math.abs(v - 6) < 1e-9 ? '6' : v.toFixed(1));
  const fmtX = (v: number) => (row === 1 ? (Math.abs(v - 1) < 1e-9 ? '1' : v.toFixed(1)) : String(v));
  return (
    <g>
      <line x1={L.l} x2={L.l} y1={L.t} y2={L.b} stroke="#b8b8b8" strokeWidth={1} />
      <line x1={L.l} x2={L.r} y1={L.b} y2={L.b} stroke="#b8b8b8" strokeWidth={1} />
      {yTicks.map(v => (
        <g key={'y' + v}>
          <line x1={L.l - 4} x2={L.l} y1={y(v)} y2={y(v)} stroke="#b8b8b8" />
          <text x={L.l - 8} y={y(v)} dy="0.35em" textAnchor="end" fontFamily={tickFont} fontSize={tickSize} fill={tickColor}>{fmtY(v)}</text>
        </g>
      ))}
      {xTicks.map(v => (
        <g key={'x' + v}>
          <line x1={x(v)} x2={x(v)} y1={L.b} y2={L.b + 4} stroke="#b8b8b8" />
          <text x={x(v)} y={L.b + 17} textAnchor="middle" fontFamily={tickFont} fontSize={tickSize} fill={tickColor}>{fmtX(v)}</text>
        </g>
      ))}
      {seriesByPanel[idx].map((p, i) => (
        <circle key={i} cx={x(p[0])} cy={y(p[1])} r={1.35} fill="#888" />
      ))}
      <path d={line(ciHi) || ''} fill="none" stroke="#555" strokeWidth={1} strokeDasharray="4 2" />
      <path d={line(ciLo) || ''} fill="none" stroke="#555" strokeWidth={1} strokeDasharray="4 2" />
      <path d={line(fitPts) || ''} fill="none" stroke="#111" strokeWidth={2} />
      <path d={line(fitPts) || ''} fill="none" stroke="#222" strokeWidth={5} strokeLinecap="round" strokeDasharray="0 8.5" />
      <text x={L.ax} y={L.ay} dy="0.35em" textAnchor="middle" fontFamily={ANNOT} fontSize={annSize}
        fontWeight={isNs ? 400 : 700} fontStyle={isNs ? 'italic' : 'normal'} fill="#111">{ann}</text>
    </g>
  );
}

export default function App() {
  return (
    <svg width={1554} height={928} style={{ position: 'absolute', left: 0, top: 0, background: '#fff' }}>
      <rect x={0} y={0} width={1554} height={928} fill="#fff" />
      {columnTitles.map((t, i) => (
        <text key={t} x={titleX[i]} y={30} textAnchor="middle" fontFamily={SERIF} fontWeight={700} fontSize={24} fill="#000">{t}</text>
      ))}
      {rowTitles.map((t, i) => (
        <text key={t} x={rowTitlePos[i].x} y={rowTitlePos[i].y} textAnchor="middle" fontFamily={SERIF} fontWeight={700} fontSize={23}
          letterSpacing={0.6} fill="#000">{t}</text>
      ))}
      {layout.map((_, i) => <Panel key={i} idx={i} />)}
    </svg>
  );
}
